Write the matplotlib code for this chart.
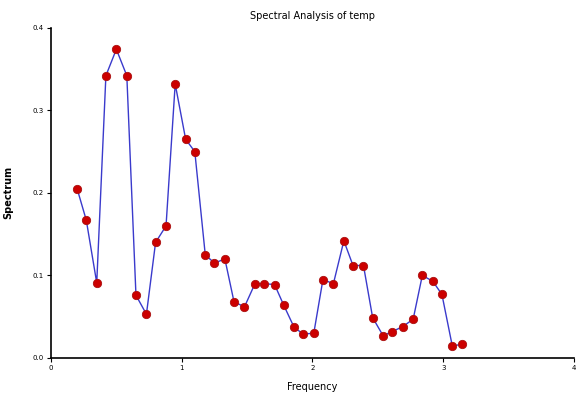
import matplotlib.pyplot as plt

# frequencies and spectrum values
freq = [0.20, 0.27, 0.35, 0.42, 0.50, 0.58, 0.65, 0.73, 0.80, 0.88,
        0.95, 1.03, 1.10, 1.18, 1.25, 1.33, 1.40, 1.48, 1.56, 1.63,
        1.71, 1.78, 1.86, 1.93, 2.01, 2.08, 2.16, 2.24, 2.31, 2.39,
        2.46, 2.54, 2.61, 2.69, 2.77, 2.84, 2.92, 2.99, 3.07, 3.14]
spectrum = [0.205, 0.167, 0.091, 0.342, 0.374, 0.342, 0.076, 0.053, 0.140, 0.160,
            0.332, 0.265, 0.250, 0.125, 0.115, 0.120, 0.068, 0.062, 0.090, 0.090,
            0.089, 0.064, 0.037, 0.029, 0.030, 0.095, 0.090, 0.142, 0.112, 0.112,
            0.049, 0.027, 0.032, 0.038, 0.047, 0.100, 0.093, 0.077, 0.014, 0.017]

fig = plt.figure(figsize=(5.76, 3.94), dpi=100)
ax = fig.add_axes([0.0885, 0.0914, 0.908, 0.838])

ax.plot(freq, spectrum, color='#3a3acc', linewidth=1.0, marker='o',
        markersize=6, markerfacecolor='#cc0000', markeredgecolor='#aa1010',
        markeredgewidth=0.6)

ax.set_xlim(0, 4)
ax.set_ylim(0, 0.4)
ax.set_xticks([0, 1, 2, 3, 4])
ax.set_xticklabels(['0', '1', '2', '3', '4'])
ax.set_yticks([0.0, 0.1, 0.2, 0.3, 0.4])
ax.set_yticklabels(['0.0', '0.1', '0.2', '0.3', '0.4'])
ax.tick_params(labelsize=5, length=3, width=0.8, pad=2)

ax.spines['top'].set_visible(False)
ax.spines['right'].set_visible(False)
ax.spines['left'].set_linewidth(1.2)
ax.spines['bottom'].set_linewidth(1.2)

ax.set_title('Spectral Analysis of temp', fontsize=7, pad=6)
ax.set_xlabel('Frequency', fontsize=7, labelpad=8)
ax.set_ylabel('Spectrum', fontsize=7, fontweight='bold', labelpad=14)

fig.savefig('out.png', dpi=100)
